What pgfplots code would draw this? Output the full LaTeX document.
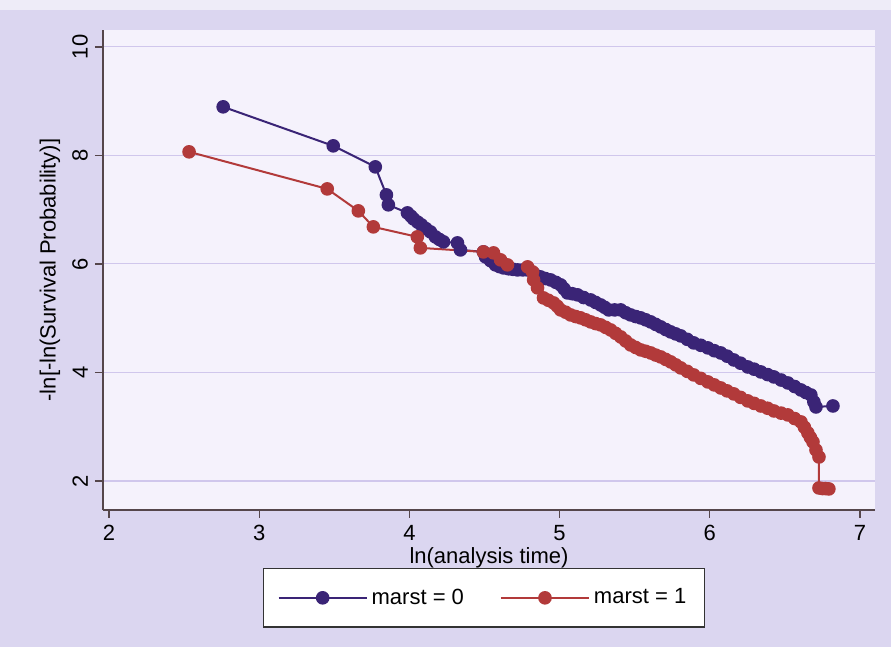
\documentclass[border=0pt]{standalone}
\usepackage{pgfplots}
\pgfplotsset{compat=1.18}
\usepackage{fontspec}
\setmainfont{Liberation Sans}

\definecolor{bgcol}{RGB}{219,214,240}
\definecolor{topcol}{RGB}{238,236,248}
\definecolor{plotbg}{RGB}{245,242,252}
\definecolor{gridcol}{RGB}{208,199,236}
\definecolor{axcol}{RGB}{85,70,75}
\definecolor{navycol}{RGB}{58,36,118}
\definecolor{redcol}{RGB}{178,58,58}

\begin{document}
\begin{tikzpicture}
\useasboundingbox (0,0) rectangle (445.5pt,323.5pt);
\fill[bgcol] (0,0) rectangle (445.5pt,323.5pt);
\fill[topcol] (0,318.5pt) rectangle (445.5pt,323.5pt);
\begin{axis}[
  at={(51.5pt,68.5pt)}, anchor=south west,
  scale only axis, width=386pt, height=240pt,
  xmin=1.96, xmax=7.10, ymin=1.465, ymax=10.31,
  axis x line*=bottom, axis y line*=left,
  axis line style={axcol, line width=0.7pt, -},
  every outer x axis line/.append style={-},
  every outer y axis line/.append style={-},
  axis background/.style={fill=plotbg},
  xtick={2,3,4,5,6,7}, ytick={2,4,6,8,10},
  tick align=outside, major tick length=4pt,
  tick style={axcol, line width=0.7pt},
  ymajorgrids, grid style={gridcol, line width=0.6pt},
  /pgf/number format/assume math mode=true,
  tick label style={font=\fontsize{11}{13}\selectfont},
  yticklabel style={rotate=90, anchor=south},
  xlabel={ln(analysis time)},
  ylabel={-ln[-ln(Survival Probability)]},
  label style={font=\fontsize{11}{13}\selectfont},
  xlabel style={at={(axis description cs:0.5,-0.1)}, anchor=center},
  ylabel style={at={(axis description cs:-0.0687,0.5)}, anchor=center},
  legend columns=2,
  legend cell align=left,
  legend style={at={(0.4935,-0.183)}, anchor=center, draw=black!80, line width=0.6pt,
    fill=white, font=\fontsize{11}{13}\selectfont, inner xsep=7pt, inner ysep=8pt,
    /tikz/every even column/.append style={column sep=16pt}},
  legend image code/.code={\draw[mark repeat=2,mark phase=2,#1] plot coordinates {(0pt,0pt) (22pt,0pt) (44pt,0pt)};},
]
% marst = 0
\addplot[navycol, line width=1pt, mark=*, mark size=2.9pt,
  mark options={fill=navycol, draw=navycol, solid}] coordinates {
(2.760,8.894)(3.493,8.175)(3.773,7.788)(3.847,7.272)(3.860,7.088)(3.987,6.940)
(4.010,6.88)(4.027,6.830)(4.055,6.77)(4.080,6.719)(4.110,6.65)(4.140,6.590)
(4.173,6.498)(4.200,6.45)(4.227,6.406)(4.320,6.387)(4.340,6.258)(4.493,6.221)
(4.507,6.129)(4.540,6.06)(4.573,5.982)(4.600,5.95)(4.627,5.926)(4.660,5.91)
(4.690,5.90)(4.720,5.889)(4.755,5.889)(4.787,5.889)(4.830,5.82)(4.873,5.760)
(4.905,5.73)(4.940,5.705)(4.975,5.66)(5.007,5.613)(5.030,5.54)(5.053,5.465)
(5.085,5.45)(5.120,5.429)(5.160,5.38)(5.207,5.336)(5.240,5.29)(5.273,5.244)
(5.300,5.20)(5.327,5.152)(5.367,5.152)(5.407,5.152)(5.440,5.10)(5.473,5.060)
(5.507,5.03)(5.540,5.005)(5.573,4.97)(5.607,4.931)(5.640,4.885)(5.673,4.839)
(5.707,4.79)(5.740,4.747)(5.773,4.71)(5.807,4.673)(5.850,4.61)(5.893,4.544)
(5.940,4.50)(5.987,4.452)(6.030,4.40)(6.073,4.359)(6.115,4.30)(6.160,4.230)
(6.205,4.17)(6.253,4.101)(6.295,4.06)(6.340,4.009)(6.385,3.96)(6.427,3.917)
(6.475,3.86)(6.520,3.806)(6.565,3.74)(6.607,3.677)(6.640,3.63)(6.673,3.585)
(6.693,3.456)(6.707,3.364)(6.820,3.382)
};
\addlegendentry{marst = 0}
% marst = 1
\addplot[redcol, line width=1pt, mark=*, mark size=2.9pt,
  mark options={fill=redcol, draw=redcol, solid}] coordinates {
(2.533,8.065)(3.453,7.382)(3.660,6.977)(3.760,6.682)(4.053,6.498)(4.073,6.295)
(4.493,6.221)(4.560,6.203)(4.607,6.074)(4.653,5.982)(4.787,5.945)(4.820,5.853)
(4.827,5.705)(4.853,5.558)(4.893,5.373)(4.925,5.33)(4.960,5.281)(4.985,5.22)
(5.007,5.152)(5.040,5.11)(5.073,5.060)(5.107,5.03)(5.140,5.005)(5.173,4.97)
(5.207,4.931)(5.240,4.90)(5.273,4.876)(5.307,4.83)(5.340,4.783)(5.373,4.72)
(5.407,4.654)(5.440,4.58)(5.473,4.507)(5.507,4.46)(5.540,4.415)(5.573,4.39)
(5.607,4.359)(5.640,4.32)(5.673,4.286)(5.707,4.24)(5.740,4.194)(5.773,4.14)
(5.807,4.083)(5.850,4.02)(5.893,3.954)(5.940,3.89)(5.987,3.825)(6.030,3.77)
(6.073,3.714)(6.115,3.66)(6.160,3.604)(6.205,3.54)(6.253,3.475)(6.295,3.43)
(6.340,3.382)(6.385,3.34)(6.427,3.290)(6.475,3.25)(6.520,3.217)(6.565,3.15)
(6.607,3.088)(6.630,2.99)(6.653,2.885)(6.670,2.80)(6.687,2.719)(6.707,2.571)
(6.727,2.442)(6.727,1.871)(6.750,1.86)(6.770,1.86)(6.793,1.853)
};
\addlegendentry{marst = 1}
\end{axis}
\end{tikzpicture}
\end{document}
